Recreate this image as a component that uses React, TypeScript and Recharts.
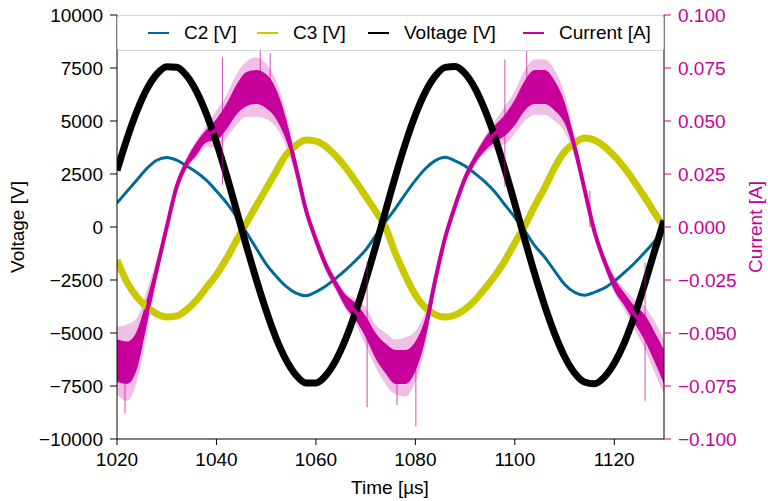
import React from "react";
import { ComposedChart, Line, Area, XAxis, YAxis, ReferenceLine } from "recharts";

const timeUs = [
  1020, 1022, 1024, 1026, 1028, 1030, 1032, 1034, 1036, 1038, 1040, 1042, 1044, 1046,
  1048, 1050, 1052, 1054, 1056, 1058, 1060, 1062, 1064, 1066, 1068, 1070, 1072, 1074,
  1076, 1078, 1080, 1082, 1084, 1086, 1088, 1090, 1092, 1094, 1096, 1098, 1100, 1102,
  1104, 1106, 1108, 1110, 1112, 1114, 1116, 1118, 1120, 1122, 1124, 1126, 1128, 1130,
];

const c2Values = [
  1130, 1680, 2220, 2760, 3150, 3280, 3150, 2880, 2580, 2200, 1700, 1150, 500, -250,
  -1000, -1750, -2320, -2800, -3120, -3240, -3060, -2780, -2420, -2020, -1580, -1080, -420, 250,
  880, 1560, 2200, 2750, 3130, 3290, 3120, 2880, 2520, 2130, 1650, 1050, 460, -180,
  -880, -1420, -2070, -2700, -3080, -3220, -3080, -2880, -2550, -2150, -1720, -1230, -710, -100,
];

const c3Values = [
  -1560, -2600, -3300, -3770, -4100, -4250, -4200, -3900, -3450, -2850, -2250, -1500, -650, 180,
  1000, 1800, 2620, 3400, 3850, 4100, 4050, 3800, 3350, 2800, 2150, 1450, 750, -20,
  -1250, -2300, -3200, -3800, -4130, -4250, -4150, -3880, -3450, -2900, -2300, -1600, -750, 50,
  1000, 1850, 2800, 3550, 3950, 4200, 4100, 3800, 3350, 2800, 2150, 1450, 700, 0,
];

const voltageValues = [
  2660, 4160, 5460, 6500, 7210, 7560, 7540, 7140, 6390, 5320, 3990, 2460, 810, -870,
  -2470, -3950, -5250, -6270, -6990, -7360, -7360, -7000, -6290, -5270, -3990, -2520, -920, 750,
  2410, 3940, 5280, 6360, 7120, 7530, 7570, 7240, 6540, 5510, 4230, 2720, 1090, -590,
  -2210, -3710, -5030, -6110, -6880, -7310, -7390, -7080, -6430, -5480, -4230, -2780, -1210, 300,
];

const currentValues = [
  -0.063, -0.064, -0.058, -0.04, -0.02, 0.0, 0.019, 0.03, 0.037, 0.043, 0.046, 0.052, 0.06, 0.065,
  0.066, 0.064, 0.058, 0.046, 0.028, 0.008, -0.006, -0.018, -0.027, -0.035, -0.04, -0.047, -0.056, -0.062,
  -0.066, -0.066, -0.061, -0.048, -0.025, -0.005, 0.01, 0.023, 0.032, 0.039, 0.044, 0.048, 0.054, 0.062,
  0.066, 0.066, 0.062, 0.054, 0.038, 0.018, -0.002, -0.016, -0.027, -0.034, -0.041, -0.047, -0.056, -0.066,
];

// half-width of the dense noise band and of the fainter outer fringe, in A
const currentNoise = [
  0.01, 0.01, 0.009, 0.006, 0.003, 0.002, 0.002, 0.002, 0.003, 0.003, 0.005, 0.006, 0.007, 0.008,
  0.008, 0.008, 0.007, 0.005, 0.003, 0.002, 0.002, 0.002, 0.002, 0.003, 0.004, 0.005, 0.006, 0.007,
  0.008, 0.008, 0.007, 0.005, 0.003, 0.002, 0.002, 0.002, 0.002, 0.003, 0.004, 0.005, 0.006, 0.007,
  0.008, 0.008, 0.007, 0.005, 0.003, 0.002, 0.002, 0.002, 0.003, 0.003, 0.004, 0.006, 0.007, 0.008,
];
const currentSpread = [
  0.016, 0.018, 0.015, 0.01, 0.005, 0.003, 0.003, 0.003, 0.004, 0.005, 0.009, 0.01, 0.012, 0.013,
  0.014, 0.013, 0.011, 0.008, 0.005, 0.003, 0.003, 0.003, 0.003, 0.004, 0.006, 0.009, 0.01, 0.012,
  0.013, 0.014, 0.012, 0.008, 0.004, 0.003, 0.003, 0.003, 0.003, 0.004, 0.006, 0.009, 0.01, 0.012,
  0.013, 0.013, 0.012, 0.009, 0.005, 0.003, 0.003, 0.003, 0.004, 0.005, 0.007, 0.01, 0.012, 0.013,
];

// isolated spikes on the current trace: time, bottom, top
const spikeTime = [1021.6, 1041.2, 1048.8, 1050.8, 1070.3, 1076.3, 1080.1, 1098.0, 1102.4, 1115.1, 1126.2];
const spikeLow = [-0.088, 0.02, 0.06, 0.06, -0.085, -0.084, -0.094, 0.019, 0.06, 0.0, -0.082];
const spikeHigh = [-0.06, 0.08, 0.085, 0.082, -0.016, -0.065, -0.06, 0.079, 0.09, 0.017, -0.017];

const xTicks = [1020, 1040, 1060, 1080, 1100, 1120];
const voltTicks = [-10000, -7500, -5000, -2500, 0, 2500, 5000, 7500, 10000];
const currentTicks = [-0.1, -0.075, -0.05, -0.025, 0, 0.025, 0.05, 0.075, 0.1];

const BLUE = "#006a9a";
const YELLOW = "#c9c900";
const MAGENTA = "#c8009b";
const FONT = '"Liberation Sans", Arial, sans-serif';
const FS = 19;

const legendItems = [
  { name: "C2 [V]", color: BLUE, x: 30 },
  { name: "C3 [V]", color: YELLOW, x: 139 },
  { name: "Voltage [V]", color: "#000", x: 250 },
  { name: "Current [A]", color: MAGENTA, x: 405 },
];

const rows = timeUs.map((t, i) => ({
  t,
  c2: c2Values[i],
  c3: c3Values[i],
  voltage: voltageValues[i],
  current: currentValues[i],
  band: [currentValues[i] - currentNoise[i], currentValues[i] + currentNoise[i]],
  spread: [currentValues[i] - currentSpread[i], currentValues[i] + currentSpread[i]],
}));

const minus = (s: string) => s.replace("-", "\u2212");

export default function App() {
  return (
    <div style={{ position: "absolute", left: 0, top: 0, width: 768, height: 501, fontFamily: FONT, background: "#fff" }}>
      <ComposedChart width={768} height={501} data={rows} margin={{ top: 15, right: 0, bottom: 0, left: 0 }}>
        <XAxis
          dataKey="t"
          type="number"
          domain={[1020, 1130]}
          ticks={xTicks}
          allowDataOverflow
          height={62}
          stroke="#000"
          tickSize={6}
          tickMargin={8}
          tick={{ fill: "#000", fontSize: FS, fontFamily: FONT }}
          label={{
            content: () => (
              <text x={390} y={487} textAnchor="middle" dominantBaseline="central" fontSize={FS} fontFamily={FONT} fill="#000">
                Time [µs]
              </text>
            ),
          }}
        />
        <XAxis xAxisId="top" orientation="top" type="number" domain={[1020, 1130]} height={0} tick={false} tickLine={false} stroke="#000" />
        <YAxis
          yAxisId="v"
          width={117}
          domain={[-10000, 10000]}
          ticks={voltTicks}
          allowDataOverflow
          stroke="#000"
          tickSize={7}
          tickMargin={7}
          tick={{ fill: "#000", fontSize: FS, fontFamily: FONT }}
          tickFormatter={(v: number) => minus(String(v))}
          label={{
            content: () => (
              <text x={17} y={227} transform="rotate(-90 17 227)" textAnchor="middle" dominantBaseline="central" fontSize={FS} fontFamily={FONT} fill="#000">
                Voltage [V]
              </text>
            ),
          }}
        />
        <YAxis
          yAxisId="i"
          orientation="right"
          width={104}
          domain={[-0.1, 0.1]}
          ticks={currentTicks}
          allowDataOverflow
          axisLine={{ stroke: "#000" }}
          tickLine={{ stroke: MAGENTA }}
          tickSize={7}
          tickMargin={7}
          tick={{ fill: MAGENTA, fontSize: FS, fontFamily: FONT }}
          tickFormatter={(v: number) => minus(v.toFixed(3))}
          label={{
            content: () => (
              <text x={755} y={227} transform="rotate(-90 755 227)" textAnchor="middle" dominantBaseline="central" fontSize={FS} fontFamily={FONT} fill={MAGENTA}>
                Current [A]
              </text>
            ),
          }}
        />
        <Line yAxisId="v" dataKey="c2" type="monotone" stroke={BLUE} strokeWidth={3} dot={false} isAnimationActive={false} />
        <Line yAxisId="v" dataKey="c3" type="monotone" stroke={YELLOW} strokeWidth={7} dot={false} isAnimationActive={false} />
        <Line yAxisId="v" dataKey="voltage" type="monotone" stroke="#000" strokeWidth={7} dot={false} isAnimationActive={false} />
        <Area yAxisId="i" dataKey="spread" type="monotone" stroke="none" fill={MAGENTA} fillOpacity={0.25} isAnimationActive={false} />
        <Area yAxisId="i" dataKey="band" type="monotone" stroke="none" fill={MAGENTA} fillOpacity={1} isAnimationActive={false} />
        <Line yAxisId="i" dataKey="current" type="monotone" stroke={MAGENTA} strokeWidth={4} dot={false} isAnimationActive={false} />
        {spikeTime.map((t, i) => (
          <ReferenceLine
            key={`spike-${i}`}
            yAxisId="i"
            segment={[
              { x: t, y: spikeLow[i] },
              { x: t, y: spikeHigh[i] },
            ]}
            stroke={MAGENTA}
            strokeOpacity={0.7}
            strokeWidth={1}
          />
        ))}
      </ComposedChart>
      <div
        style={{
          position: "absolute",
          left: 117,
          top: 15,
          width: 547,
          height: 36,
          border: "1px solid #d4d4d4",
          borderRadius: 3,
          background: "rgba(255,255,255,0.85)",
          boxSizing: "border-box",
        }}
      >
        {legendItems.map((it) => (
          <div key={it.name} style={{ position: "absolute", left: it.x, top: 0, height: 34, display: "flex", alignItems: "center" }}>
            <div style={{ width: 21, height: 2, background: it.color, marginRight: 15 }} />
            <span style={{ fontSize: FS, color: "#000", whiteSpace: "nowrap" }}>{it.name}</span>
          </div>
        ))}
      </div>
    </div>
  );
}
